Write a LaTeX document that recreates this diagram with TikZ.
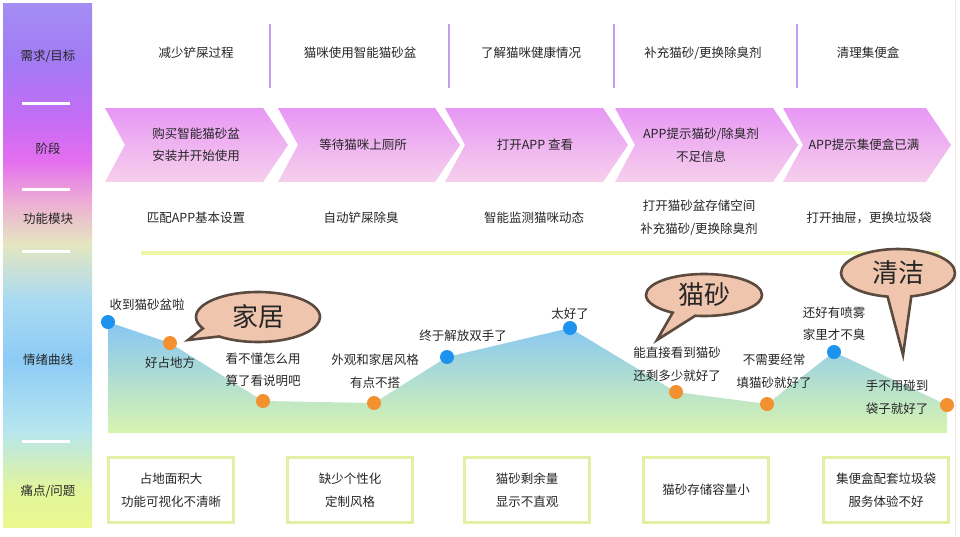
\documentclass[tikz,border=0pt]{standalone}
\usepackage{fontspec}
\setmainfont{Noto Sans CJK SC}
\usetikzlibrary{shapes.callouts}

\definecolor{inkgray}{HTML}{262626}
\definecolor{sepviolet}{HTML}{C49CF0}
\definecolor{stagetop}{HTML}{E797F5}
\definecolor{stagebot}{HTML}{F6D0EC}
\definecolor{moodblue}{HTML}{1E93EE}
\definecolor{moodorange}{HTML}{F39130}
\definecolor{areatop}{HTML}{86C6F4}
\definecolor{areamid}{HTML}{A2DDF2}
\definecolor{areabot}{HTML}{D8F4B0}
\definecolor{bubblefill}{HTML}{EFC6AD}
\definecolor{bubbleline}{HTML}{5B4A3F}
\definecolor{painline}{HTML}{E3F0A4}
\definecolor{limeline}{HTML}{EDF7A6}
\definecolor{framepink}{HTML}{FBE4E4}
% side bar colours, top to bottom
\definecolor{barA}{HTML}{A38DF3}
\definecolor{barB}{HTML}{A27BF4}
\definecolor{barC}{HTML}{C56DF4}
\definecolor{barD}{HTML}{E46EF0}
\definecolor{barE}{HTML}{EDB2D2}
\definecolor{barF}{HTML}{E4E6C0}
\definecolor{barG}{HTML}{A9DAF2}
\definecolor{barH}{HTML}{8DCBF6}
\definecolor{barI}{HTML}{B6E5EE}
\definecolor{barJ}{HTML}{E3F59C}
\definecolor{barK}{HTML}{EAF88E}

\pgfdeclareverticalshading{sidebar}{100bp}{color(0bp)=(barK); color(25bp)=(barK);
  color(28.53bp)=(barJ); color(34.26bp)=(barI); color(40.93bp)=(barH);
  color(46.66bp)=(barG); color(51.91bp)=(barF); color(55.73bp)=(barE);
  color(60.02bp)=(barD); color(63.84bp)=(barC); color(69.56bp)=(barB);
  color(75bp)=(barA); color(100bp)=(barA)}

\begin{document}
\begin{tikzpicture}[x=1pt,y=-1pt,
  txt/.style={font=\fontsize{12.5}{22.5}\selectfont,text=inkgray,align=center,inner sep=1pt},
  stage/.style={top color=stagetop,bottom color=stagebot,draw=none},
  dot/.style={circle,minimum size=14pt,inner sep=0pt},
  pain/.style={txt,draw=painline,line width=3pt,fill=white,minimum width=125pt,minimum height=65pt},
  bubble/.style={ellipse callout,draw=bubbleline,fill=bubblefill,line width=2.6pt,inner sep=0pt,
    callout pointer arc=24,font=\fontsize{26}{26}\selectfont,text=black!85}
]
  \fill[white] (0,0) rectangle (960,536);
  \useasboundingbox (0,0) rectangle (960,536);
  \draw[framepink,line width=1pt] (955,0) -- (955,536);

  % left column
  \shade[shading=sidebar] (3,3) rectangle (92,527);
  \foreach \y in {103,189,251,441}
    \draw[white,line width=3pt] (22,\y) -- (70,\y);
  \node[txt] (rowgoal) at (48,56) {需求/目标};
  \node[txt] (rowstage) at (48,149) {阶段};
  \node[txt] (rowfunc) at (48,219) {功能模块};
  \node[txt] (rowmood) at (48,360) {情绪曲线};
  \node[txt] (rowpain) at (48,491) {痛点/问题};

  % goals
  \foreach \x in {270,449,614,797}
    \draw[sepviolet,line width=1.5pt] (\x,24) -- (\x,88);
  \node[txt] (goal1) at (196,53) {减少铲屎过程};
  \node[txt] (goal2) at (360,53) {猫咪使用智能猫砂盆};
  \node[txt] (goal3) at (531,53) {了解猫咪健康情况};
  \node[txt] (goal4) at (703,53) {补充猫砂/更换除臭剂};
  \node[txt] (goal5) at (868,53) {清理集便盒};

  % stages
  \foreach \x/\w in {105/158,278/157,445/158,615/158,783/143}
    \shade[stage] (\x,108) -- ++(\w,0) -- ++(25,37) -- ++(-25,37) -- ++(-\w,0) -- ++(20,-37) -- cycle;
  \node[txt] (stage1) at (196,145) {购买智能猫砂盆\\安装并开始使用};
  \node[txt] (stage2) at (363,145) {等待猫咪上厕所};
  \node[txt] (stage3) at (535,145) {打开APP 查看};
  \node[txt] (stage4) at (701,145) {APP提示猫砂/除臭剂\\不足信息};
  \node[txt] (stage5) at (864,145) {APP提示集便盒已满};

  % functions
  \node[txt] (func1) at (196,218) {匹配APP基本设置};
  \node[txt] (func2) at (361,218) {自动铲屎除臭};
  \node[txt] (func3) at (534,218) {智能监测猫咪动态};
  \node[txt] (func4) at (699,218) {打开猫砂盆存储空间\\补充猫砂/更换除臭剂};
  \node[txt] (func5) at (869,218) {打开抽屉，更换垃圾袋};
  \draw[limeline,line width=4pt] (141,253) -- (940,253);

  % mood curve
  \coordinate (e1) at (108,322);
  \coordinate (e2) at (170,343);
  \coordinate (e3) at (263,401);
  \coordinate (e4) at (374,403);
  \coordinate (e5) at (447,357);
  \coordinate (e6) at (570,328);
  \coordinate (e7) at (676,392);
  \coordinate (e8) at (767,404);
  \coordinate (e9) at (834,352);
  \coordinate (e10) at (947,405);
  \shade[top color=areatop,middle color=areamid,bottom color=areabot]
    (108,433) -- (e1) -- (e2) -- (e3) -- (e4) -- (e5) -- (e6) -- (e7) -- (e8) -- (e9) -- (e10) -- (947,433) -- cycle;
  \foreach \n/\c in {1/moodblue,2/moodorange,3/moodorange,4/moodorange,5/moodblue,
                     6/moodblue,7/moodorange,8/moodorange,9/moodblue,10/moodorange}
    \node[dot,fill=\c] (d\n) at (e\n) {};

  \node[txt] (mood1) at (147,305) {收到猫砂盆啦};
  \node[txt] (mood2) at (170,363) {好占地方};
  \node[txt] (mood3) at (263,370) {看不懂怎么用\\算了看说明吧};
  \node[txt] (mood4) at (375,371) {外观和家居风格\\有点不搭};
  \node[txt] (mood5) at (463,336) {终于解放双手了};
  \node[txt] (mood6) at (570,314) {太好了};
  \node[txt] (mood7) at (677,364) {能直接看到猫砂\\还剩多少就好了};
  \node[txt] (mood8) at (774,371) {不需要经常\\填猫砂就好了};
  \node[txt] (mood9) at (834,324) {还好有喷雾\\家里才不臭};
  \node[txt] (mood10) at (897,397) {手不用碰到\\袋子就好了};

  \node[bubble,minimum width=124pt,minimum height=50pt,callout absolute pointer={(188,340)}]
    (home) at (258,317) {家居};
  \node[bubble,minimum width=116pt,minimum height=42pt,callout absolute pointer={(657,340)}]
    (litter) at (704,295) {猫砂};
  \node[bubble,minimum width=114pt,minimum height=48pt,callout absolute pointer={(903,355)}]
    (clean) at (898,273) {清洁};

  % pain points
  \node[pain] (pain1) at (171,490) {占地面积大\\功能可视化不清晰};
  \node[pain] (pain2) at (350,490) {缺少个性化\\定制风格};
  \node[pain] (pain3) at (527,490) {猫砂剩余量\\显示不直观};
  \node[pain] (pain4) at (706,490) {猫砂存储容量小};
  \node[pain] (pain5) at (886,490) {集便盒配套垃圾袋\\服务体验不好};
\end{tikzpicture}
\end{document}
